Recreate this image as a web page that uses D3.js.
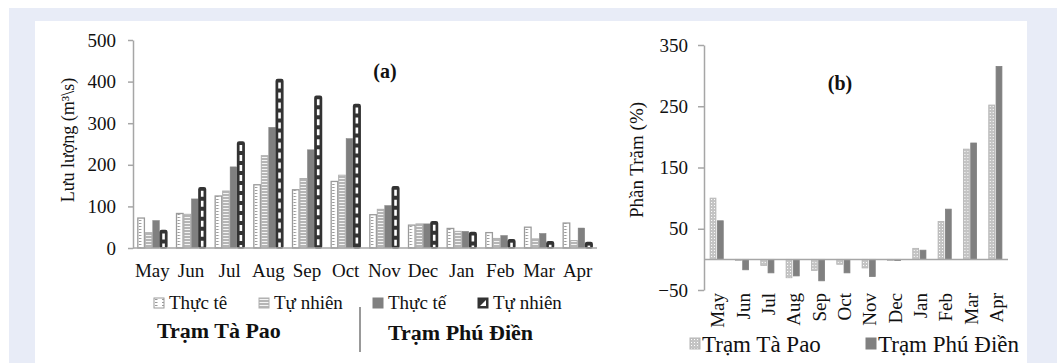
<!DOCTYPE html>
<html>
<head>
<meta charset="utf-8">
<script src="https://cdn.jsdelivr.net/npm/d3@7"></script>
<style>
  body { margin: 0; background: #fff; }
  svg { display: block; }
</style>
</head>
<body>
<div id="chart"></div>
<script>
const months = ['May', 'Jun', 'Jul', 'Aug', 'Sep', 'Oct', 'Nov', 'Dec', 'Jan', 'Feb', 'Mar', 'Apr'];

// (a) discharge, m3/s
const taPaoReal = [72, 83, 125, 152, 140, 160, 80, 55, 47, 37, 50, 60];
const taPaoNatural = [37, 81, 137, 222, 167, 175, 93, 58, 40, 23, 22, 18];
const phuDienReal = [66, 118, 195, 290, 236, 263, 102, 58, 40, 30, 35, 48];
const phuDienNatural = [42, 145, 255, 405, 365, 345, 147, 63, 37, 20, 15, 13];
const ticksA = [0, 100, 200, 300, 400, 500];

// (b) percent change
const taPaoPct = [100, -2, -10, -30, -18, -8, -14, -2, 18, 62, 180, 252];
const phuDienPct = [63, -17, -22, -27, -35, -22, -28, -2, 15, 82, 190, 315];
const ticksB = [-50, 50, 150, 250, 350];

const W = 1057, H = 363;
const axisColor = '#a6a6a6';
const serif = '"Liberation Serif", "Times New Roman", Times, serif';

const svg = d3.select('#chart').append('svg').attr('width', W).attr('height', H)
  .attr('font-family', serif);

// frame
svg.append('rect').attr('x', 9).attr('y', 8).attr('width', W - 9).attr('height', H - 8).attr('fill', '#e8ecf7');
svg.append('rect').attr('x', 35).attr('y', 21).attr('width', 992).attr('height', H - 21).attr('fill', '#fff');

// patterns
const defs = svg.append('defs');
const p1 = defs.append('pattern').attr('id', 'patTPreal').attr('patternUnits', 'userSpaceOnUse')
  .attr('width', 7).attr('height', 3);
p1.append('rect').attr('width', 7).attr('height', 3).attr('fill', '#fff');
p1.append('rect').attr('x', 1).attr('y', 1).attr('width', 2.5).attr('height', 1).attr('fill', '#9a9a9a');

const p2 = defs.append('pattern').attr('id', 'patTPnat').attr('patternUnits', 'userSpaceOnUse')
  .attr('width', 4).attr('height', 3);
p2.append('rect').attr('width', 4).attr('height', 3).attr('fill', '#b5b5b5');
p2.append('rect').attr('y', 1).attr('width', 4).attr('height', 1).attr('fill', '#f4f4f4');

const p3 = defs.append('pattern').attr('id', 'patTPpct').attr('patternUnits', 'userSpaceOnUse')
  .attr('width', 3).attr('height', 3);
p3.append('rect').attr('width', 3).attr('height', 3).attr('fill', '#c4c4c4');
p3.append('rect').attr('x', 1).attr('y', 1).attr('width', 1).attr('height', 1).attr('fill', '#fff');

const styleAxis = (g, size) => {
  g.attr('font-family', serif);
  g.selectAll('path, line').attr('stroke', axisColor).attr('stroke-width', 1.5);
  g.selectAll('text').attr('font-size', size).attr('fill', '#111').attr('font-family', serif);
};

// ---------- panel (a) ----------
const yA = d3.scaleLinear().domain([0, 500]).range([248, 40]);
const xA = d3.scaleBand().domain(months).range([133, 597]).paddingInner(0.25).paddingOuter(0.125);
const seriesA = ['tpR', 'tpN', 'pdR', 'pdN'];
const x1A = d3.scaleBand().domain(seriesA).range([0, xA.bandwidth()]).paddingInner(0.12);

const rowsA = months.map((m, i) => ({
  m,
  vals: [
    { k: 'tpR', v: taPaoReal[i] },
    { k: 'tpN', v: taPaoNatural[i] },
    { k: 'pdR', v: phuDienReal[i] },
    { k: 'pdN', v: phuDienNatural[i] }
  ]
}));

const gA = svg.append('g');
gA.append('g')
  .attr('transform', 'translate(133,0)')
  .call(d3.axisLeft(yA).tickValues(ticksA).tickSize(5).tickSizeOuter(0).tickPadding(12))
  .call(g => styleAxis(g, 19));

const groups = gA.selectAll('.grp').data(rowsA).join('g')
  .attr('transform', d => `translate(${xA(d.m)},0)`);

const styleA = {
  tpR: { fill: 'url(#patTPreal)', stroke: '#9a9a9a', sw: 1.3 },
  tpN: { fill: 'url(#patTPnat)', stroke: '#b0b0b0', sw: 1 },
  pdR: { fill: '#808080', stroke: '#808080', sw: 0.5 },
  pdN: { fill: '#333', stroke: '#333', sw: 1.5 }
};

groups.selectAll('rect').data(d => d.vals).join('rect')
  .attr('x', d => x1A(d.k))
  .attr('y', d => yA(d.v))
  .attr('width', x1A.bandwidth())
  .attr('height', d => yA(0) - yA(d.v))
  .attr('fill', d => styleA[d.k].fill)
  .attr('stroke', d => styleA[d.k].stroke)
  .attr('stroke-width', d => styleA[d.k].sw)
  .attr('rx', d => d.k === 'pdN' ? 1.5 : 0);

// white dashes inside the dark bars
groups.selectAll('line.dash').data(d => d.vals.filter(v => v.k === 'pdN')).join('line')
  .attr('class', 'dash')
  .attr('x1', d => x1A(d.k) + x1A.bandwidth() / 2)
  .attr('x2', d => x1A(d.k) + x1A.bandwidth() / 2)
  .attr('y1', d => yA(d.v) + 3)
  .attr('y2', yA(0) - 1)
  .attr('stroke', '#fff')
  .attr('stroke-width', 2.6)
  .attr('stroke-dasharray', '6,4');

gA.append('line')
  .attr('x1', 133).attr('x2', 597).attr('y1', yA(0)).attr('y2', yA(0))
  .attr('stroke', axisColor).attr('stroke-width', 1.5);

gA.selectAll('.mlab').data(months).join('text')
  .attr('x', d => xA(d) + xA.bandwidth() / 2)
  .attr('y', 277)
  .attr('text-anchor', 'middle')
  .attr('font-size', 19)
  .attr('fill', '#111')
  .text(d => d);

gA.append('text')
  .attr('transform', 'translate(74,140) rotate(-90)')
  .attr('text-anchor', 'middle')
  .attr('font-size', 18)
  .attr('fill', '#111')
  .text('Lưu lượng (m³\\s)');

gA.append('text').attr('x', 385).attr('y', 78).attr('text-anchor', 'middle')
  .attr('font-size', 20).attr('font-weight', 'bold').attr('fill', '#111').text('(a)');

// legend (a)
const legA = [
  { k: 'tpR', label: 'Thực tê', x: 154 },
  { k: 'tpN', label: 'Tự nhiên', x: 259 },
  { k: 'pdR', label: 'Thực tế', x: 373 },
  { k: 'pdN', label: 'Tự nhiên', x: 478 }
];
const lg = gA.selectAll('.lega').data(legA).join('g')
  .attr('transform', d => `translate(${d.x},298)`);
lg.append('rect').attr('width', 10).attr('height', 10)
  .attr('fill', d => styleA[d.k].fill)
  .attr('stroke', d => styleA[d.k].stroke)
  .attr('stroke-width', 1);
lg.filter(d => d.k === 'pdN').append('path')
  .attr('d', 'M2,8 L8,2 L8,8 Z').attr('fill', '#fff');
lg.append('text').attr('x', 15).attr('y', 11).attr('font-size', 19).attr('fill', '#111').text(d => d.label);

gA.append('text').attr('x', 157).attr('y', 338).attr('font-size', 22).attr('font-weight', 'bold')
  .attr('fill', '#111').text('Trạm Tà Pao');
gA.append('text').attr('x', 388).attr('y', 340).attr('font-size', 22).attr('font-weight', 'bold')
  .attr('fill', '#111').text('Trạm Phú Điền');
gA.append('line').attr('x1', 360).attr('x2', 360).attr('y1', 307).attr('y2', 352)
  .attr('stroke', '#777').attr('stroke-width', 1.5);

// ---------- panel (b) ----------
const yB = d3.scaleLinear().domain([-50, 350]).range([290, 45]);
const xB = d3.scaleBand().domain(months).range([704, 1008]).paddingInner(0.48).paddingOuter(0.24);
const x1B = d3.scaleBand().domain(['tp', 'pd']).range([0, xB.bandwidth()]).paddingInner(0.2);

const rowsB = months.map((m, i) => ({ m, vals: [{ k: 'tp', v: taPaoPct[i] }, { k: 'pd', v: phuDienPct[i] }] }));

const gB = svg.append('g');
gB.append('g')
  .attr('transform', 'translate(704,0)')
  .call(d3.axisLeft(yB).tickValues(ticksB).tickSize(6).tickSizeOuter(0).tickPadding(10))
  .call(g => styleAxis(g, 19));

const groupsB = gB.selectAll('.grpb').data(rowsB).join('g')
  .attr('transform', d => `translate(${xB(d.m)},0)`);
groupsB.selectAll('rect').data(d => d.vals).join('rect')
  .attr('x', d => x1B(d.k))
  .attr('y', d => yB(Math.max(0, d.v)))
  .attr('width', x1B.bandwidth())
  .attr('height', d => Math.abs(yB(d.v) - yB(0)))
  .attr('fill', d => d.k === 'tp' ? 'url(#patTPpct)' : '#808080')
  .attr('stroke', d => d.k === 'tp' ? '#b5b5b5' : '#808080')
  .attr('stroke-width', 0.8);

gB.append('line')
  .attr('x1', 704).attr('x2', 1008).attr('y1', yB(0)).attr('y2', yB(0))
  .attr('stroke', axisColor).attr('stroke-width', 1.5);

gB.selectAll('.mlabb').data(months).join('text')
  .attr('transform', d => `translate(${xB(d) + xB.bandwidth() / 2 + 1},293) rotate(-90)`)
  .attr('text-anchor', 'end')
  .attr('dy', '0.35em')
  .attr('font-size', 19)
  .attr('fill', '#111')
  .text(d => d);

gB.append('text')
  .attr('transform', 'translate(643,160) rotate(-90)')
  .attr('text-anchor', 'middle')
  .attr('font-size', 19)
  .attr('fill', '#111')
  .text('Phần Trăm (%)');

gB.append('text').attr('x', 840).attr('y', 90).attr('text-anchor', 'middle')
  .attr('font-size', 20).attr('font-weight', 'bold').attr('fill', '#111').text('(b)');

const legB = [
  { k: 'tp', label: 'Trạm Tà Pao', x: 690 },
  { k: 'pd', label: 'Trạm Phú Điền', x: 866 }
];
const lb = gB.selectAll('.legb').data(legB).join('g')
  .attr('transform', d => `translate(${d.x},338)`);
lb.append('rect').attr('width', 10).attr('height', 11)
  .attr('fill', d => d.k === 'tp' ? 'url(#patTPpct)' : '#808080')
  .attr('stroke', d => d.k === 'tp' ? '#b5b5b5' : '#808080');
lb.append('text').attr('x', 12).attr('y', 14).attr('font-size', 23).attr('fill', '#111')
  .text(d => d.label);
</script>
</body>
</html>
